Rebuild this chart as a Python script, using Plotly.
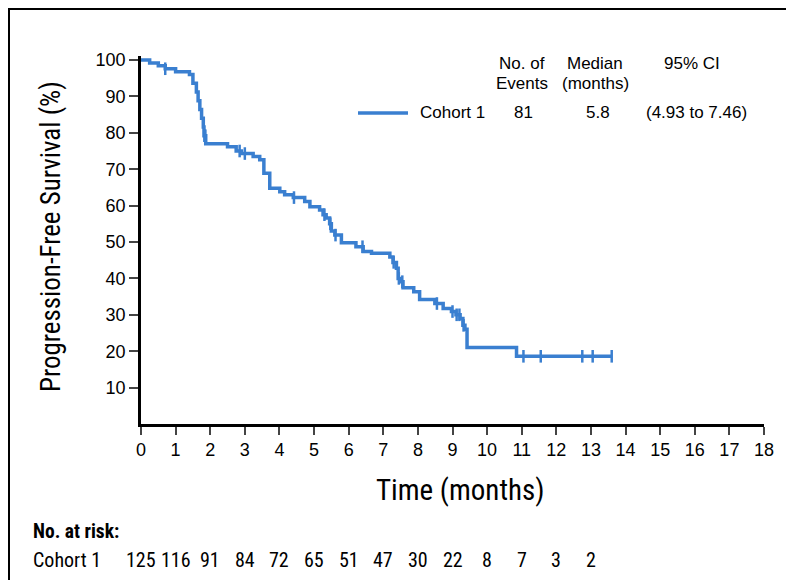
import numpy as np
import plotly.graph_objects as go

# ---- data ----
step_times = [0, 0.25, 0.5, 0.7, 1.0, 1.4, 1.5, 1.6, 1.65, 1.7, 1.75, 1.8, 1.82, 1.87,
              2.5, 2.75, 2.9, 3.24, 3.43, 3.55, 3.72, 4.01, 4.15, 4.4, 4.73, 4.88,
              5.16, 5.26, 5.35, 5.45, 5.5, 5.6, 5.79, 6.21, 6.42, 6.66, 7.19, 7.28,
              7.38, 7.43, 7.51, 7.57, 7.88, 8.05, 8.49, 8.73, 8.97, 9.1, 9.22, 9.3,
              9.36, 9.42, 10.85]
step_surv = [100, 99.2, 98.4, 97.6, 96.8, 96.0, 93.6, 91.2, 88.8, 86.4, 84.0, 81.6, 79.2, 77.0,
             76.2, 75.0, 74.3, 73.5, 72.6, 68.9, 64.8, 63.8, 63.0, 62.2, 61.1, 59.7,
             58.8, 57.5, 56.6, 55.0, 53.0, 51.9, 49.8, 48.7, 47.4, 46.9, 45.9, 44.4,
             42.8, 40.0, 39.1, 37.4, 36.3, 34.2, 33.1, 31.7, 30.9, 30.0, 29.0, 27.1,
             26.0, 21.0, 18.6]
end_time = 13.6
censor_times = [0.7, 1.83, 1.86, 2.85, 3.0, 4.42, 5.3, 5.47, 5.62, 6.4, 7.3, 7.45, 7.55,
                8.55, 9.0, 9.12, 9.2, 9.32, 11.05, 11.55, 12.75, 13.05, 13.6]

risk_times = list(range(0, 14))
risk_counts = [125, 116, 91, 84, 72, 65, 51, 47, 30, 22, 8, 7, 3, 2]

legend_name = "Cohort 1"
n_events = "81"
median_months = "5.8"
ci_text = "(4.93 to 7.46)"

x_ticks = list(range(0, 19))
y_ticks = list(range(10, 101, 10))

# ---- geometry helpers (pixel -> paper) ----
W, H = 794, 580
ML, MR, MT, MB = 133, 38, 48, 164
PW, PH = W - ML - MR, H - MT - MB

def px(x):
    return (x - ML) / PW

def py(y):
    return (H - MB - y) / PH

blue = "#3a7fd0"
narrow = "Roboto Condensed, Noto Sans Condensed, DejaVu Sans Condensed, Liberation Sans, Arial, sans-serif"
regular = "Liberation Sans, Arial, Helvetica, sans-serif"

xs = list(step_times) + [end_time]
ys = list(step_surv) + [step_surv[-1]]

st = np.array(step_times)
sv = np.array(step_surv)
cidx = np.searchsorted(st, np.array(censor_times), side="right") - 1
censor_surv = sv[cidx]

fig = go.Figure()
fig.add_trace(go.Scatter(x=xs, y=ys, mode="lines", line=dict(color=blue, width=3.5, shape="hv"),
                         showlegend=False, hoverinfo="skip"))
fig.add_trace(go.Scatter(x=censor_times, y=censor_surv, mode="markers",
                         marker=dict(symbol="line-ns", size=9, line=dict(color=blue, width=2.5)),
                         showlegend=False, hoverinfo="skip"))

fig.update_layout(
    width=W, height=H, autosize=False,
    margin=dict(l=ML, r=MR, t=MT, b=MB),
    paper_bgcolor="white", plot_bgcolor="white",
    font=dict(family=regular, color="black"),
    xaxis=dict(range=[0, 18], tickvals=x_ticks, ticks="outside", ticklen=8, tickwidth=2,
               showline=True, linecolor="black", linewidth=2.5, showgrid=False, zeroline=False,
               tickfont=dict(size=18, family=regular), fixedrange=True),
    yaxis=dict(range=[0, 101.1], tickvals=y_ticks, ticks="outside", ticklen=9, tickwidth=2,
               showline=True, linecolor="black", linewidth=2.5, showgrid=False, zeroline=False,
               tickfont=dict(size=18, family=regular), fixedrange=True),
)

def note(text, x, y, size, family, xanchor="center", xref="paper", **kw):
    return dict(text=text, x=x, y=y, xref=xref, yref="paper", xanchor=xanchor, yanchor="middle",
                showarrow=False, font=dict(size=size, family=family), **kw)

ann = []
# axis titles
ann.append(note("Progression-Free Survival (%)", px(43), py(229), 27, narrow, textangle=-90))
ann.append(note("Time (months)", px(452), py(482), 29, narrow))
# legend table
lf = 17
ann.append(note("No. of", px(514), py(55), lf, regular))
ann.append(note("Events", px(514), py(75), lf, regular))
ann.append(note("Median", px(587), py(55), lf, regular))
ann.append(note("(months)", px(587), py(75), lf, regular))
ann.append(note("95% CI", px(684), py(55), lf, regular))
ann.append(note(legend_name, px(410), py(105), lf, regular, xanchor="left"))
ann.append(note(n_events, px(515), py(105), lf, regular))
ann.append(note(median_months, px(590), py(105), lf, regular))
ann.append(note(ci_text, px(688), py(105), lf, regular))
# number at risk
ann.append(note("<b>No. at risk:</b>", px(23), py(523), 19.5, narrow, xanchor="left"))
ann.append(note(legend_name, px(23), py(552), 20, narrow, xanchor="left"))
for t, n in zip(risk_times, risk_counts):
    ann.append(note(str(n), t, py(552), 20, narrow, xref="x"))
fig.update_layout(annotations=ann)

shapes = [
    dict(type="line", xref="paper", yref="paper", x0=px(350), x1=px(400), y0=py(105), y1=py(105),
         line=dict(color=blue, width=3.5)),
    dict(type="rect", xref="paper", yref="paper", x0=px(1), x1=px(793), y0=py(1), y1=py(579),
         line=dict(color="black", width=2)),
]
fig.update_layout(shapes=shapes)

fig.write_html("out.html")
